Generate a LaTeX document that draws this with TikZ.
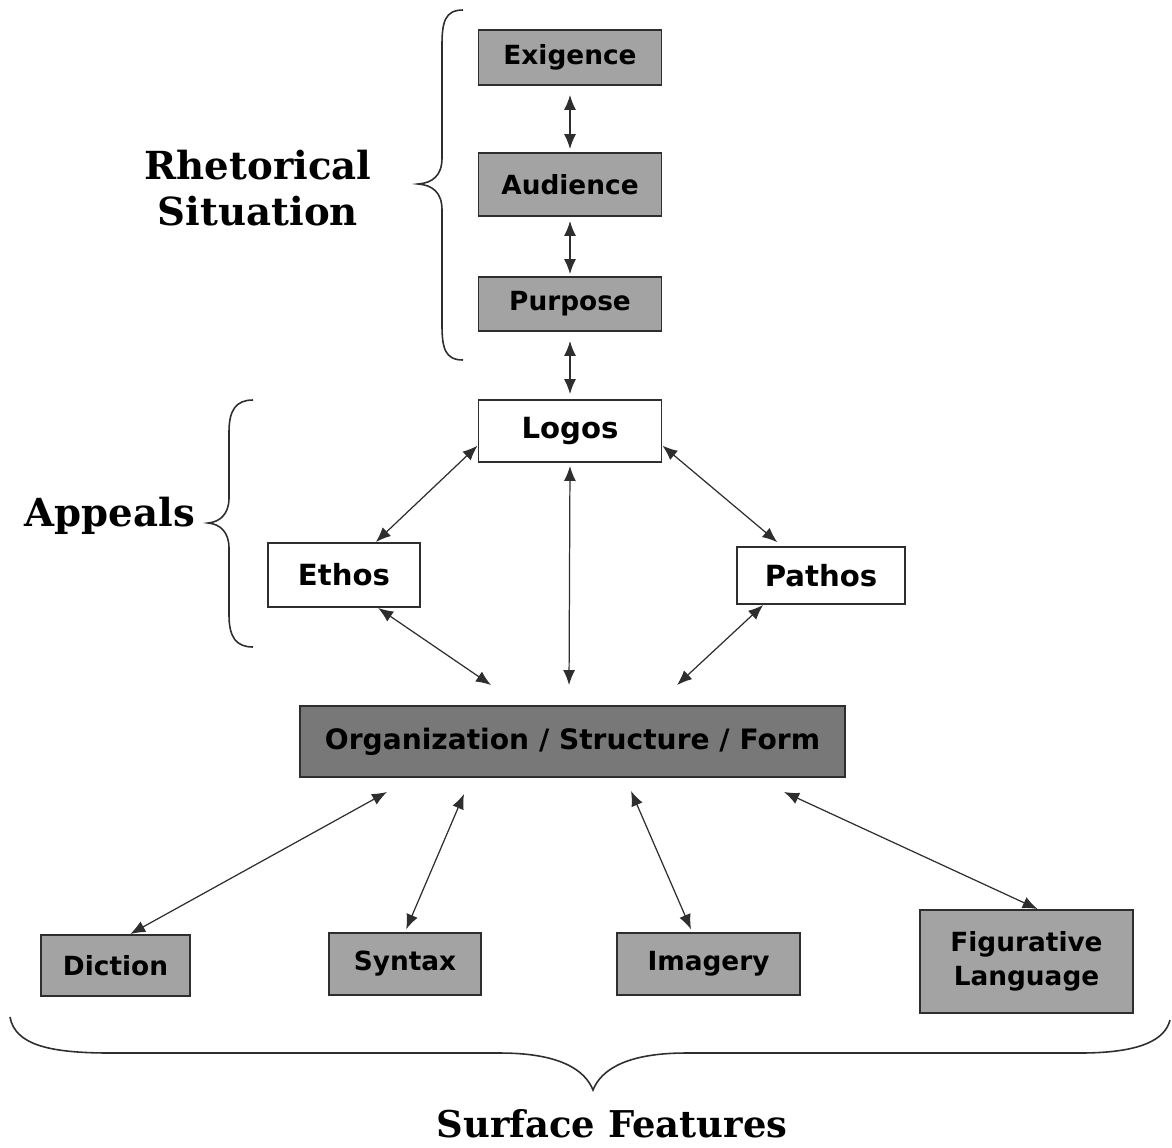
\documentclass[tikz,border=0pt]{standalone}
\usepackage{fontspec}
\usepackage{tikz}
\usetikzlibrary{arrows.meta,calc}
\newfontfamily\boxfont{DejaVu Sans}
\newfontfamily\lblfont{DejaVu Serif}
\definecolor{boxgray}{rgb}{0.64,0.64,0.64}
\definecolor{darkgray}{rgb}{0.47,0.47,0.47}
\definecolor{edge}{rgb}{0.18,0.18,0.18}

\begin{document}
\begin{tikzpicture}[x=0.2mm, y=-0.2mm,
  box/.style = {shape=rectangle, draw=edge, line width=1.1pt, align=center, text=black,
                font=\boxfont\bfseries\fontsize{15}{19.3}\selectfont, inner sep=0pt},
  light/.style = {box, fill=boxgray},
  dark/.style = {box, fill=darkgray, font=\boxfont\bfseries\fontsize{16}{19}\selectfont},
  plain/.style = {box, fill=white, font=\boxfont\bfseries\fontsize{16.6}{20}\selectfont},
  lbl/.style = {align=center, font=\lblfont\bfseries\fontsize{22}{26.6}\selectfont},
  link/.style = {{Latex[length=3mm,width=2.4mm]}-{Latex[length=3mm,width=2.4mm]}, line width=0.7pt, draw=edge},
  brace/.style = {line width=0.9pt, draw=edge}]
\useasboundingbox (0,0) rectangle (1172,1147);

% rhetorical situation
\node[light, minimum width=36.6mm, minimum height=11mm] (exig) at (570,57.5) {Exigence};
\node[light, minimum width=36.6mm, minimum height=12.6mm] (aud) at (570,184.5) {Audience};
\node[light, minimum width=36.6mm, minimum height=10.8mm] (purp) at (570,304) {Purpose};

% appeals
\node[plain, minimum width=36.6mm, minimum height=12.4mm] (logos) at (570,431) {Logos};
\node[plain, minimum width=30.4mm, minimum height=12.8mm] (ethos) at (344,575) {Ethos};
\node[plain, minimum width=33.6mm, minimum height=11.4mm] (pathos) at (821,575.5) {Pathos};

\node[dark, minimum width=109mm, minimum height=14.2mm] (org) at (572.5,741.5) {Organization / Structure / Form};

% surface features
\node[light, minimum width=29.8mm, minimum height=12.2mm] (dict) at (115.5,965.5) {Diction};
\node[light, minimum width=30.4mm, minimum height=12.4mm] (synt) at (405,964) {Syntax};
\node[light, minimum width=36.6mm, minimum height=12.4mm] (imag) at (708.5,964) {Imagery};
\node[light, minimum width=42.6mm, minimum height=20.6mm] (figl) at (1026.5,961.5) {Figurative\\Language};

\node[lbl] (rhet) at (258,188) {Rhetorical\\Situation};
\node[lbl] (appeals) at (110,516) {Appeals};
\node[lbl, font=\lblfont\bfseries\fontsize{21}{25}\selectfont] (surf) at (612,1124) {Surface Features};

% ends near the org box
\coordinate (oEth) at ($(org.north west)+(192,-20)$);
\coordinate (oLog) at ($(org.north west)+(270,-20)$);
\coordinate (oPat) at ($(org.north west)+(378,-20)$);
\coordinate (oDic) at ($(org.south west)+(88,14)$);
\coordinate (oSyn) at ($(org.south west)+(165,16)$);
\coordinate (oIma) at ($(org.south west)+(332,13)$);
\coordinate (oFig) at ($(org.south west)+(485,14)$);

\draw[link, shorten <=1.8mm, shorten >=0.6mm] (exig) -- (aud);
\draw[link, shorten <=0.8mm, shorten >=0.4mm] (aud) -- (purp);
\draw[link, shorten <=1.8mm, shorten >=1mm] (purp) -- (logos);
\draw[link] (logos.189) -- (ethos.46);
\draw[link, shorten >=1.2mm] (logos.-9) -- (pathos.143);
\draw[link, shorten <=0.6mm] (logos.south) -- (oLog);
\draw[link] (ethos.-44) -- (oEth);
\draw[link] (pathos.207) -- (oPat);
\draw[link] (oDic) -- (dict.65);
\draw[link, shorten >=0.6mm] (oSyn) -- (synt.north);
\draw[link, shorten >=0.6mm] (oIma) -- (imag.117);
\draw[link] (oFig) -- (figl.78);

% braces
\draw[brace] (463,10) .. controls (445,10) and (442,22) .. (442,45) -- (442,158)
  .. controls (442,176) and (432,183) .. (418,184) .. controls (432,185) and (442,192) .. (442,210)
  -- (442,325) .. controls (442,348) and (445,360) .. (463,360);
\draw[brace] (253,400) .. controls (236,400) and (229,410) .. (229,432) -- (229,498)
  .. controls (229,514) and (220,522) .. (208,523) .. controls (220,524) and (229,532) .. (229,548)
  -- (229,615) .. controls (229,637) and (236,647) .. (253,647);
\draw[brace] (10,1017) .. controls (15,1045) and (50,1053) .. (110,1053) -- (500,1053)
  .. controls (560,1053) and (585,1070) .. (593,1090) .. controls (601,1070) and (626,1053) .. (686,1053)
  -- (1080,1053) .. controls (1140,1053) and (1165,1040) .. (1170,1020);
\end{tikzpicture}
\end{document}
